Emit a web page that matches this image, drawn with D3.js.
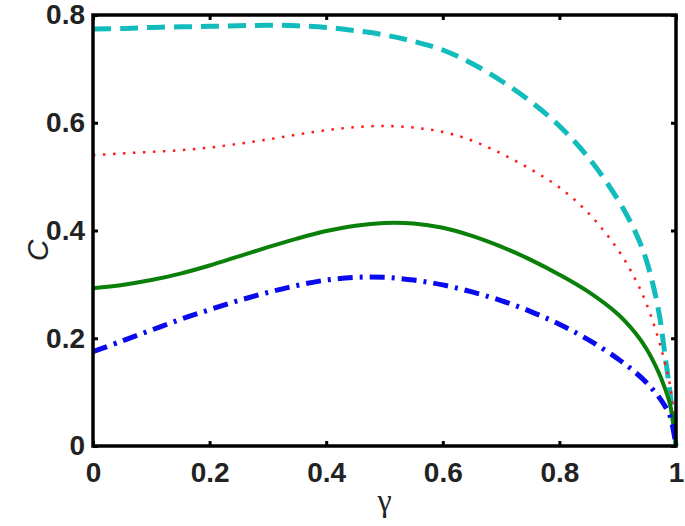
<!DOCTYPE html>
<html>
<head>
  <meta charset="utf-8">
  <style>
    body {margin: 0; background: #fff}
    .tick text {font-family: "Liberation Sans", Arial, sans-serif; font-weight: bold; font-size: 28px; fill: #222}
  </style>
</head>
<body>
  <script src="https://cdn.jsdelivr.net/npm/d3@7"></script>
  <script>
    // data
    var gamma = [0, 0.05, 0.1, 0.15, 0.2, 0.25, 0.3, 0.35, 0.4, 0.45, 0.5, 0.55, 0.6, 0.65, 0.7, 0.75, 0.8, 0.85, 0.9, 0.93, 0.95, 0.97, 0.98, 0.99, 1];
    var cyanVals  = [0.774, 0.775, 0.777, 0.778, 0.779, 0.780, 0.781, 0.780, 0.777, 0.771, 0.763, 0.751, 0.735, 0.710, 0.678, 0.640, 0.594, 0.535, 0.458, 0.398, 0.342, 0.252, 0.178, 0.097, 0];
    var redVals   = [0.540, 0.543, 0.546, 0.549, 0.554, 0.561, 0.569, 0.578, 0.586, 0.592, 0.594, 0.591, 0.583, 0.567, 0.543, 0.514, 0.480, 0.432, 0.365, 0.310, 0.262, 0.198, 0.158, 0.112, 0];
    var greenVals = [0.293, 0.299, 0.308, 0.320, 0.335, 0.352, 0.369, 0.385, 0.399, 0.409, 0.414, 0.413, 0.405, 0.390, 0.370, 0.346, 0.318, 0.286, 0.245, 0.210, 0.179, 0.137, 0.110, 0.076, 0];
    var blueVals  = [0.175, 0.195, 0.215, 0.235, 0.253, 0.270, 0.285, 0.298, 0.308, 0.313, 0.313, 0.308, 0.299, 0.286, 0.270, 0.250, 0.226, 0.197, 0.162, 0.137, 0.117, 0.092, 0.076, 0.055, 0];
    var xTicks = [0, 0.2, 0.4, 0.6, 0.8, 1];
    var yTicks = [0, 0.2, 0.4, 0.6, 0.8];

    var width = 685, height = 526;
    var margin = {top: 15, right: 9, bottom: 80, left: 93};
    var w = width - margin.left - margin.right;
    var h = height - margin.top - margin.bottom;

    var x = d3.scaleLinear().domain([0, 1]).range([0, w]);
    var y = d3.scaleLinear().domain([0, 0.8]).range([h, 0]);

    var svg = d3.select("body").append("svg")
      .attr("width", width)
      .attr("height", height)
      .append("g")
      .attr("transform", "translate(" + margin.left + "," + margin.top + ")");

    var fmt = function (d) { return d === 0 || d === 1 ? String(d) : d3.format(".1f")(d); };

    // axes with inward ticks
    svg.append("g")
      .attr("transform", "translate(0," + h + ")")
      .call(d3.axisBottom(x).tickValues(xTicks).tickSize(-5).tickPadding(16).tickFormat(fmt));
    svg.append("g")
      .call(d3.axisTop(x).tickValues(xTicks).tickSize(-5).tickFormat(""));
    svg.append("g")
      .call(d3.axisLeft(y).tickValues(yTicks).tickSize(-5).tickPadding(8).tickFormat(fmt));
    svg.append("g")
      .attr("transform", "translate(" + w + ",0)")
      .call(d3.axisRight(y).tickValues(yTicks).tickSize(-5).tickFormat(""));

    svg.selectAll(".domain").remove();
    svg.selectAll(".tick line").attr("stroke", "#000").attr("stroke-width", 3);

    var series = [
      {vals: cyanVals,  color: "#13bcbc", width: 5,   dash: "18,9"},
      {vals: redVals,   color: "#ff1a1a", width: 2.5, dash: "2.5,7.5"},
      {vals: greenVals, color: "#0a7f0a", width: 4,   dash: null},
      {vals: blueVals,  color: "#0a0aee", width: 5,   dash: "15,7,3,7"}
    ];

    var line = d3.line()
      .x(function (d) { return x(d[0]); })
      .y(function (d) { return y(d[1]); })
      .curve(d3.curveCatmullRom.alpha(0.5));

    series.forEach(function (s) {
      svg.append("path")
        .datum(gamma.map(function (g, i) { return [g, s.vals[i]]; }))
        .attr("fill", "none")
        .attr("stroke", s.color)
        .attr("stroke-width", s.width)
        .attr("stroke-dasharray", s.dash)
        .attr("d", line);
    });

    // box
    svg.append("rect")
      .attr("width", w)
      .attr("height", h)
      .attr("fill", "none")
      .attr("stroke", "#000")
      .attr("stroke-width", 3.5);

    // axis labels
    svg.append("text")
      .attr("x", w / 2)
      .attr("y", h + 65)
      .attr("text-anchor", "middle")
      .style("font-family", "'Liberation Serif', serif")
      .style("font-size", "32px")
      .style("fill", "#222")
      .text("γ");

    svg.append("text")
      .attr("transform", "translate(" + (-45) + "," + (h / 2 + 20) + ") rotate(-90)")
      .attr("text-anchor", "middle")
      .style("font-family", "'Liberation Sans', Arial, sans-serif")
      .style("font-style", "italic")
      .style("font-size", "30px")
      .style("fill", "#222")
      .text("C");
  </script>
</body>
</html>
